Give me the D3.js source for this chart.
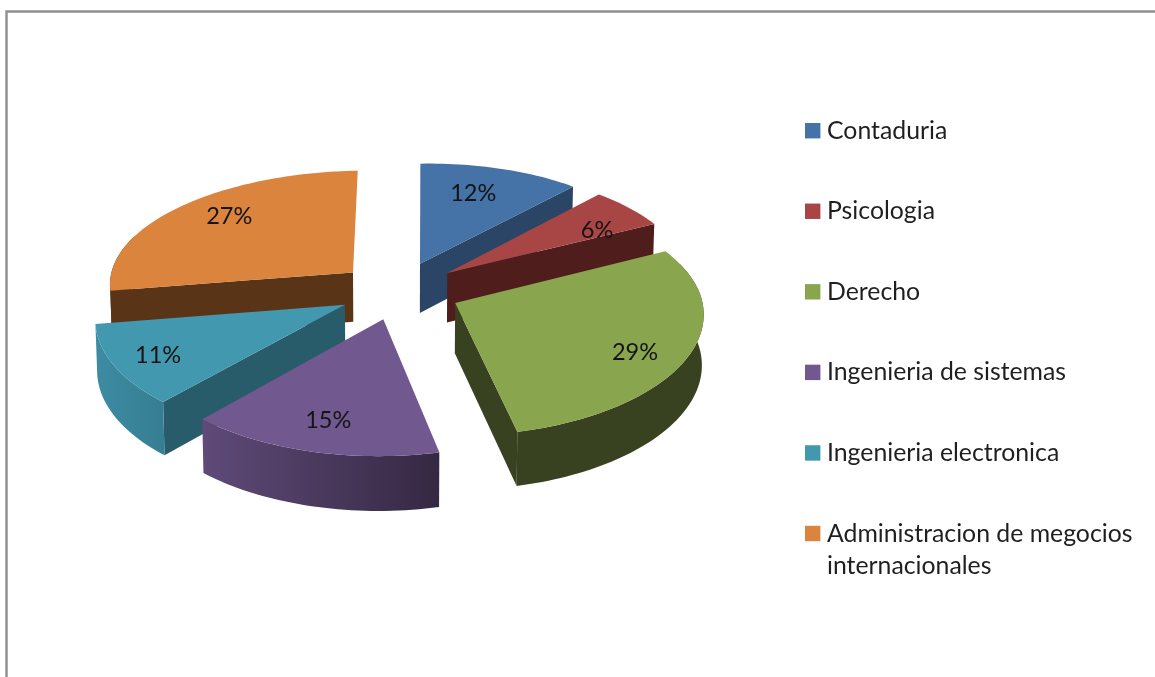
<!DOCTYPE html>
<html><head><meta charset="utf-8">
<script src="https://cdn.jsdelivr.net/npm/d3@7"></script>
<style>html,body{margin:0;padding:0;background:#fff;overflow:hidden}svg{display:block;filter:blur(0.4px)}</style>
</head><body><svg id="chart" width="1155" height="677"></svg>
<script>
const categories = ["Contaduria","Psicologia","Derecho","Ingenieria de sistemas","Ingenieria electronica","Administracion de megocios internacionales"];
const values = [12,6,29,15,11,27];
const topColors = ["#4572a7","#a74644","#89a54e","#71588f","#4198af","#db843d"];
const wallColors = ["#2a4565","#4f1e1c","#384120","#3d2f4f","#285c6b","#5a3416"];
const arcColorsLeft = ["#2a4565","#4f1e1c","#384120","#5f4a78","#3d8ca3","#5a3416"];
const arcColorsRight = ["#2a4565","#4f1e1c","#384120","#352842","#367e92","#5a3416"];
const paintOrder = [0,1,2,5,4,3];
const labelFrac = [.45,.77,.54,.5,.5,.545];
const labelRad = [.725,.757,.80,.776,.816,.774];

const cx=399.5, cy=290.5, A=245, B=116, k=0.1047, kx=0.09, skewBack=6.6, skewFront=3.5, explode=0.25, depth=50;
const rot = -2*Math.PI/180;
const svg = d3.select("#chart");

svg.append("path").attr("d","M6.5,677V11.5H1155").attr("fill","none").attr("stroke","#8e8e8e").attr("stroke-width",2.4);

const slices = d3.pie().sort(null).value(d=>d).startAngle(rot).endAngle(rot+2*Math.PI)(values);
const line = d3.line();

function proj(u,v,low){
  let X = cx + A*u/(1+kx*v) + (v>0?skewBack*v*v:skewFront*v), Y = cy - B*v/(1+k*v);
  if(low){ X = cx + (X-cx)*0.994; Y += depth/(1+0.07*v); }
  return [X,Y];
}
function pt(s,theta,r,low){
  const m=(s.startAngle+s.endAngle)/2;
  return proj(explode*Math.sin(m)+r*Math.sin(theta), explode*Math.cos(m)+r*Math.cos(theta), low);
}

const defs = svg.append("defs");
const g = svg.append("g");
paintOrder.forEach(i=>{
  const s=slices[i];
  const n=Math.max(8,Math.round((s.endAngle-s.startAngle)*40));
  const thetas=d3.range(n+1).map(j=>s.startAngle+(s.endAngle-s.startAngle)*j/n);
  const rim=thetas.map(t=>pt(s,t,1,false)), rimLow=thetas.map(t=>pt(s,t,1,true));
  const apex=pt(s,0,0,false), apexLow=pt(s,0,0,true);
  const cut=(t)=>[apex,pt(s,t,1,false),pt(s,t,1,true),apexLow];
  const startCut=cut(s.startAngle), endCut=cut(s.endAngle);
  const sa=-d3.polygonArea(startCut), ea=-d3.polygonArea(endCut);
  [[startCut,sa<-800],[endCut,ea>800]].forEach(([poly,vis])=>{
    if(vis) g.append("path").attr("d",line(poly)+"Z").attr("fill",wallColors[i]);
  });
  const xs=rim.map(p=>p[0]);
  const id="grad"+i;
  const gr=defs.append("linearGradient").attr("id",id).attr("gradientUnits","userSpaceOnUse")
    .attr("x1",d3.min(xs)).attr("x2",d3.max(xs)).attr("y1",0).attr("y2",0);
  gr.append("stop").attr("offset",0).attr("stop-color",arcColorsLeft[i]);
  gr.append("stop").attr("offset",1).attr("stop-color",arcColorsRight[i]);
  const front=thetas.map((t,j)=>j).filter(j=>Math.cos(thetas[j])<0.35);
  if(front.length>1){
    const a=front.map(j=>rim[j]), b=front.map(j=>rimLow[j]).reverse();
    g.append("path").attr("d",line(a.concat(b))+"Z").attr("fill",`url(#${id})`);
  }
  g.append("path").attr("d",line([apex].concat(rim))+"Z").attr("fill",topColors[i]);
});

const labels=svg.append("g").attr("font-family","Lato, 'Open Sans', sans-serif").attr("font-size",23.5).attr("fill","#141414");
slices.forEach((s,i)=>{
  const t=s.startAngle+(s.endAngle-s.startAngle)*labelFrac[i];
  const p=pt(s,t,labelRad[i],false);
  labels.append("text").attr("x",p[0]).attr("y",p[1]).attr("text-anchor","middle").attr("dominant-baseline","central").text(values[i]+"%");
});

const legendY=d3.scaleLinear().domain([0,5]).range([130.7,533.5]);
const legend=svg.append("g").attr("font-family","Lato, 'Open Sans', sans-serif").attr("font-size",24.8).attr("fill","#1f1f1f");
categories.forEach((c,i)=>{
  const y=legendY(i);
  legend.append("rect").attr("x",805).attr("y",y-7.7).attr("width",15.4).attr("height",15.4).attr("fill",topColors[i]);
  const lines=i===5?["Administracion de megocios","internacionales"]:[c];
  lines.forEach((t,j)=>legend.append("text").attr("x",827).attr("y",y+8+j*32.5).text(t));
});
</script></body></html>
